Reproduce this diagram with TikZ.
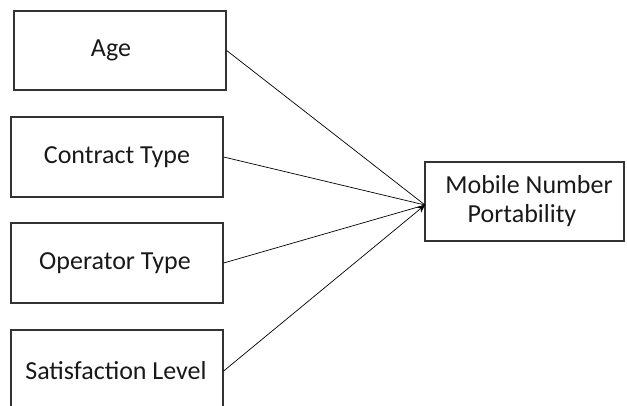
\documentclass[tikz,border=0pt]{standalone}
\usepackage{fontspec}
\setmainfont{Carlito}
\usetikzlibrary{arrows.meta}
\begin{document}
\begin{tikzpicture}[x=1pt,y=-1pt,
  box/.style={draw=black!80,line width=1.3pt,rectangle,inner sep=0pt},
  lbl/.style={font=\fontsize{26}{29}\selectfont,align=center,text=black!90},
  conn/.style={draw=black,line width=0.7pt}]
\useasboundingbox (0,0) rectangle (627,406);
\clip (0,0) rectangle (627,406);
\node[box,minimum width=212pt,minimum height=79pt] (age) at (120,50.5) {};
\node[box,minimum width=212pt,minimum height=80pt] (con) at (117,157) {};
\node[box,minimum width=212pt,minimum height=80pt] (opr) at (117,263) {};
\node[box,minimum width=212pt,minimum height=82pt] (sat) at (117,371) {};
\node[box,minimum width=199pt,minimum height=79pt] (mob) at (524.5,201.5) {};
\node[lbl] (agel) at (111,50) {Age};
\node[lbl] (conl) at (117,157) {Contract Type};
\node[lbl] (oprl) at (115,263) {Operator Type};
\node[lbl] (satl) at (116,371) {Satisfaction Level};
\node[lbl] (mobl) at (529,201) {Mobile Number\\\hspace*{-14pt}Portability};
\coordinate (tip) at (425,205);
\draw[conn] (age.east) -- (tip);
\draw[conn] (con.east) -- (tip);
\draw[conn] (opr.east) -- (tip);
\draw[conn,-{Stealth[length=8pt,width=7pt]}] (sat.east) -- (tip);
\end{tikzpicture}
\end{document}
